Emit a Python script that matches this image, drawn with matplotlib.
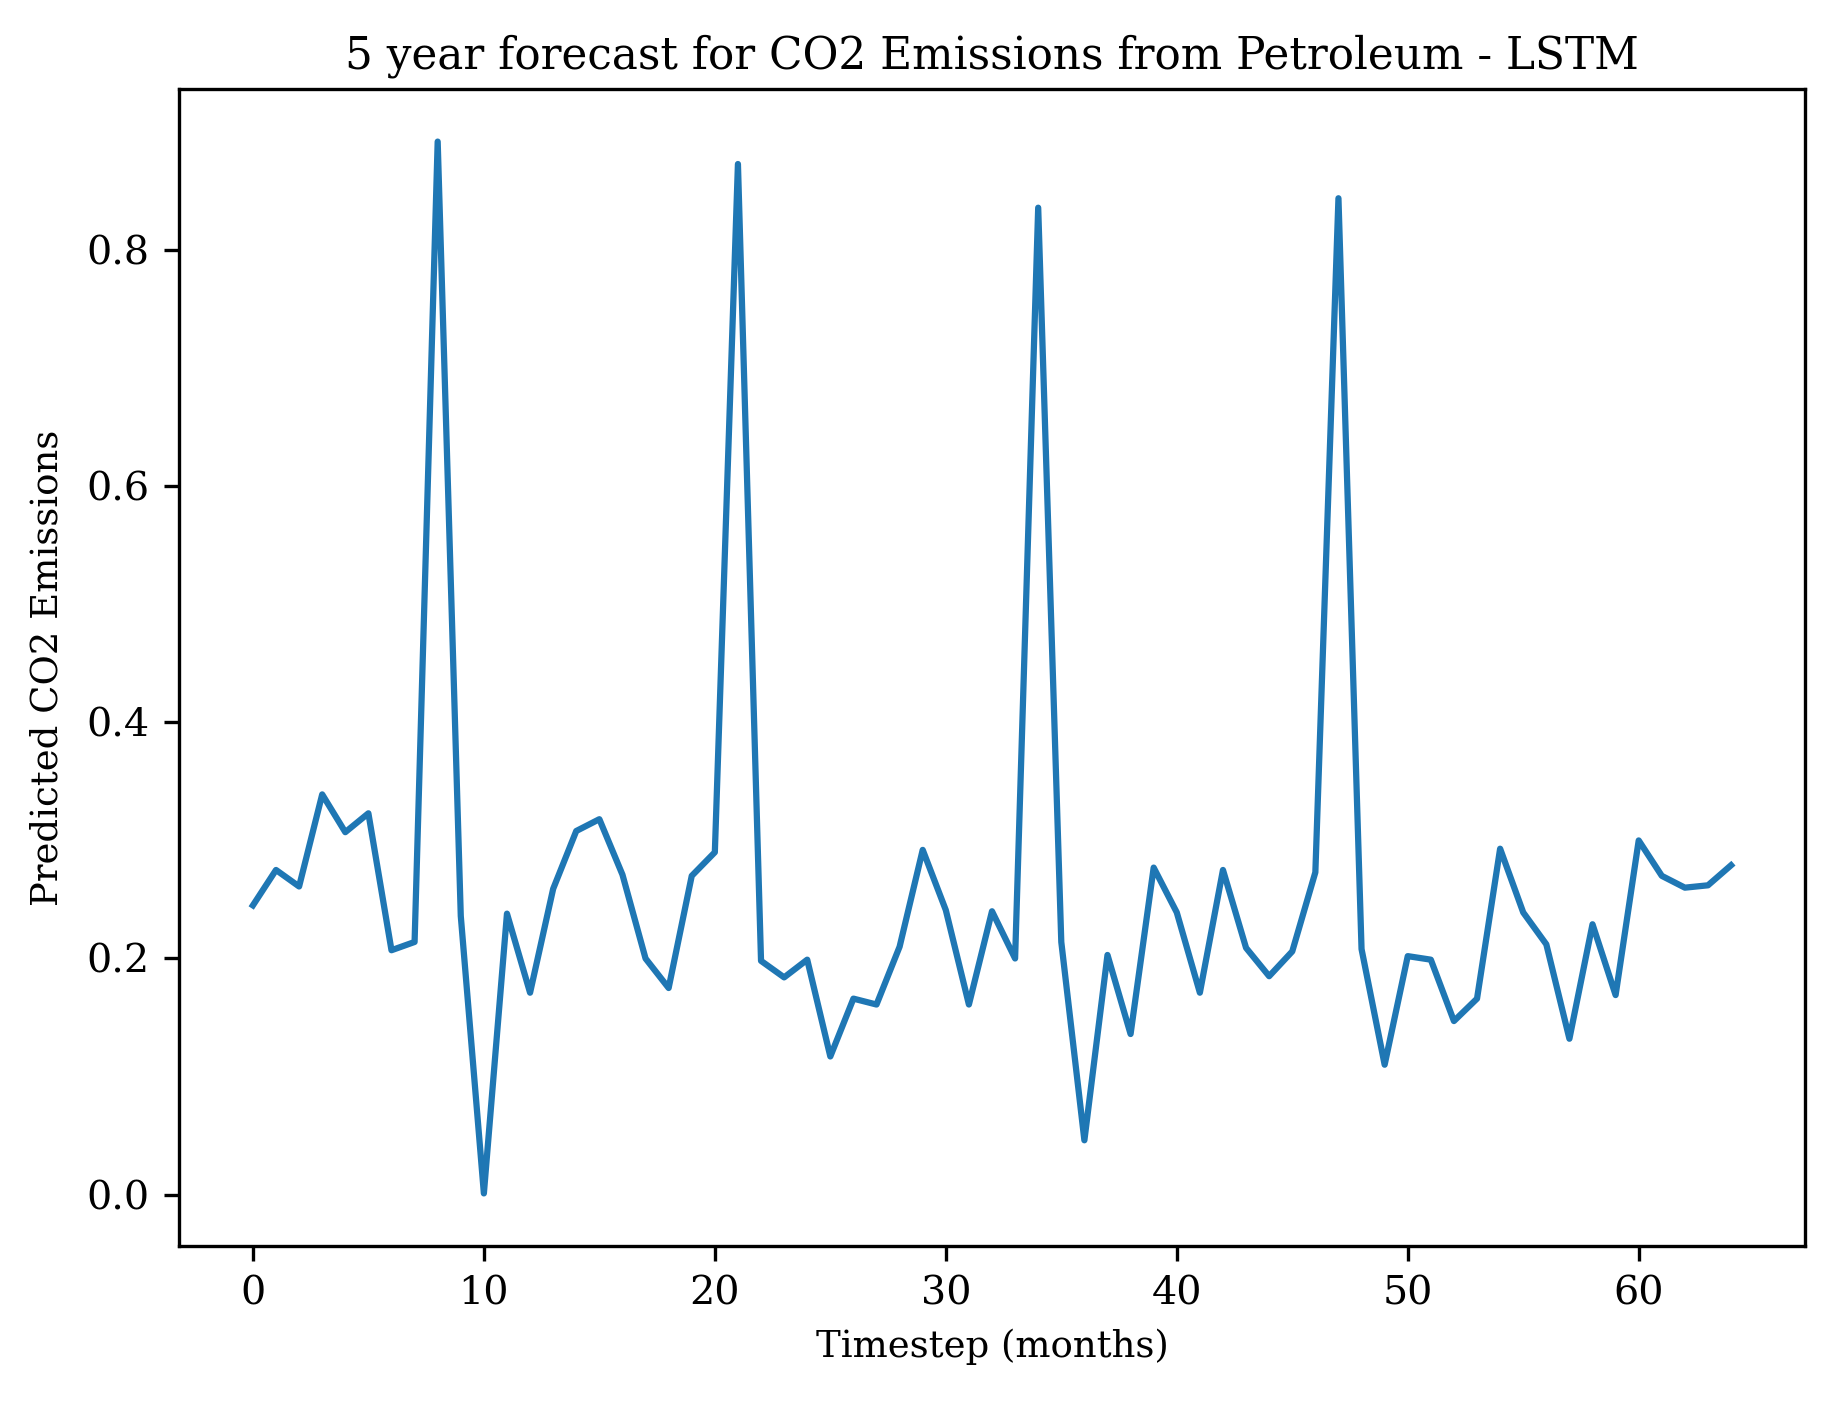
import matplotlib
matplotlib.use("Agg")
import matplotlib.pyplot as plt
import numpy as np

timesteps = list(range(65))
predicted = [
    0.245, 0.275, 0.261, 0.339, 0.307, 0.323, 0.207, 0.214, 0.892, 0.236,
    0.001, 0.238, 0.171, 0.259, 0.308, 0.318, 0.271, 0.200, 0.175, 0.270,
    0.290, 0.873, 0.198, 0.184, 0.199, 0.117, 0.166, 0.161, 0.210, 0.292,
    0.241, 0.161, 0.240, 0.200, 0.836, 0.214, 0.046, 0.203, 0.136, 0.277,
    0.239, 0.171, 0.275, 0.209, 0.185, 0.206, 0.273, 0.844, 0.208, 0.110,
    0.202, 0.199, 0.147, 0.166, 0.293, 0.239, 0.212, 0.132, 0.229, 0.169,
    0.300, 0.270, 0.260, 0.262, 0.279,
]

title = "5 year forecast for CO2 Emissions from Petroleum - LSTM"
xlabel = "Timestep (months)"
ylabel = "Predicted CO2 Emissions"

plt.rcParams['font.family'] = ['DejaVu Serif']

fig = plt.figure(figsize=(1836 / 300, 1405 / 300), dpi=300)
ax = fig.add_axes([179 / 1836, 1 - 1246 / 1405, (1805 - 179) / 1836, (1246 - 89) / 1405])
ax.plot(timesteps, predicted, color='#1f77b4', linewidth=1.5)
ax.set_title(title, fontsize=10.5, pad=5)
ax.set_xlabel(xlabel, fontsize=8.9, labelpad=4)
ax.set_ylabel(ylabel, fontsize=8.9, labelpad=5)
ax.set_xticks([0, 10, 20, 30, 40, 50, 60])
ax.set_yticks([0.0, 0.2, 0.4, 0.6, 0.8])
ax.tick_params(labelsize=9.5)
fig.savefig("out.png", dpi=300)
